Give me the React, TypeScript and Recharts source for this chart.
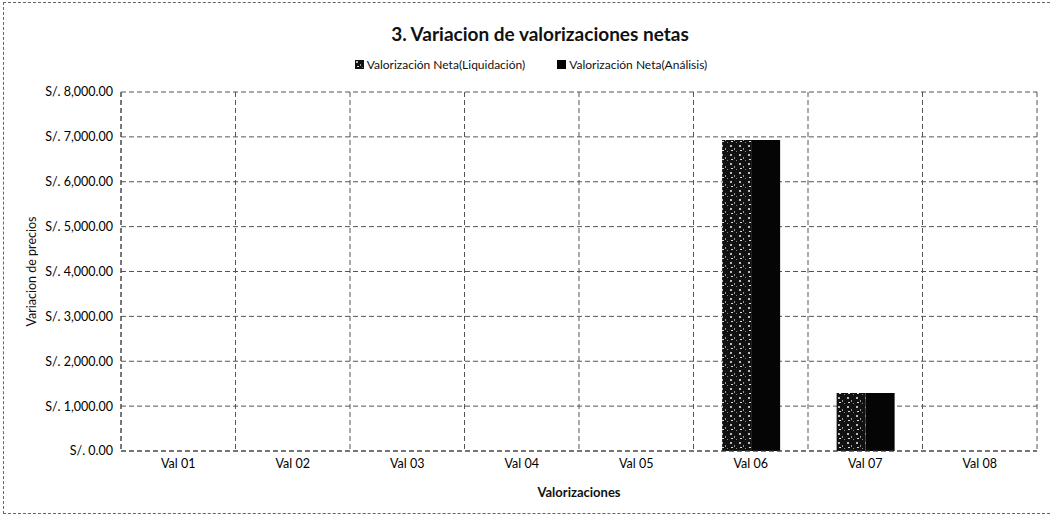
import React from "react";
import { BarChart, Bar, XAxis, YAxis, CartesianGrid } from "recharts";

const categories = ["Val 01", "Val 02", "Val 03", "Val 04", "Val 05", "Val 06", "Val 07", "Val 08"];
const liquidacion = [0, 0, 0, 0, 0, 6930, 1290, 0];
const analisis = [0, 0, 0, 0, 0, 6930, 1290, 0];
const yTicks = [0, 1000, 2000, 3000, 4000, 5000, 6000, 7000, 8000];
const seriesNames = ["Valorización Neta(Liquidación)", "Valorización Neta(Análisis)"];

const data = categories.map((c, i) => ({ name: c, liq: liquidacion[i], ana: analisis[i] }));

const fmt = (v: number) =>
  "S/. " + v.toLocaleString("en-US", { minimumFractionDigits: 2, maximumFractionDigits: 2 });

const FONT = "Lato, 'Open Sans', sans-serif";
const fills = ["url(#speckle)", "#050505"];

export default function App() {
  return (
    <div style={{ position: "absolute", left: 0, top: 0, width: 1051, height: 519, background: "#fff", fontFamily: FONT }}>
      <svg width="0" height="0" style={{ position: "absolute" }}>
        <defs>
          <pattern id="speckle" width="9" height="9" patternUnits="userSpaceOnUse">
            <rect width="9" height="9" fill="#111" />
            <rect x="1" y="1" width="2" height="2" fill="#bbb" />
            <rect x="5" y="4" width="1" height="2" fill="#999" />
            <rect x="2" y="6" width="2" height="1" fill="#ddd" />
            <rect x="7" y="7" width="1" height="1" fill="#888" />
          </pattern>
        </defs>
      </svg>
      <div style={{ position: "absolute", left: 3, top: 2, width: 1060, height: 510, border: "1px dashed #666" }} />
      <div style={{ position: "absolute", left: 0, width: 1080, top: 22, textAlign: "center", fontSize: 19, fontWeight: 700, color: "#111" }}>
        3. Variacion de valorizaciones netas
      </div>
      <div style={{ position: "absolute", left: 0, width: 1062, top: 57, display: "flex", justifyContent: "center", gap: 32, fontSize: 12, color: "#111" }}>
        {seriesNames.map((n, i) => (
          <div key={n} style={{ display: "flex", alignItems: "center" }}>
            <svg width="9" height="9" style={{ marginRight: 3 }}>
              <rect width="9" height="9" fill={fills[i]} />
            </svg>
            <span>{n}</span>
          </div>
        ))}
      </div>
      <BarChart
        width={1051}
        height={519}
        data={data}
        margin={{ top: 92, right: 14, bottom: 20, left: 20 }}
        barCategoryGap="25%"
        barGap={0}
        style={{ position: "absolute", left: 0, top: 0 }}
      >
        <CartesianGrid
          stroke="#555"
          strokeDasharray="5 3"
          verticalCoordinatesGenerator={({ offset }: any) =>
            categories.map((_, i) => offset.left + (i * offset.width) / categories.length).concat([offset.left + offset.width])
          }
        />
        <XAxis
          dataKey="name"
          height={48}
          tickLine={false}
          axisLine={{ stroke: "#444", strokeDasharray: "5 3" }}
          tick={{ fontSize: 12.5, fill: "#000", fontFamily: FONT }}
          label={{ value: "Valorizaciones", position: "insideBottom", offset: 2, fontSize: 13, fontWeight: 700, fill: "#111", fontFamily: FONT }}
        />
        <YAxis
          width={101}
          domain={[0, 8000]}
          ticks={yTicks}
          tickFormatter={fmt}
          tickLine={false}
          axisLine={{ stroke: "#444", strokeDasharray: "5 3" }}
          tick={{ fontSize: 12.5, fill: "#000", fontFamily: FONT }}
          label={{ value: "Variacion de precios", angle: -90, position: "insideLeft", offset: 12, fontSize: 12.5, fill: "#111", fontFamily: FONT, style: { textAnchor: "middle" } }}
        />
        <Bar dataKey="liq" name={seriesNames[0]} fill={fills[0]} isAnimationActive={false} />
        <Bar dataKey="ana" name={seriesNames[1]} fill={fills[1]} isAnimationActive={false} />
      </BarChart>
    </div>
  );
}
